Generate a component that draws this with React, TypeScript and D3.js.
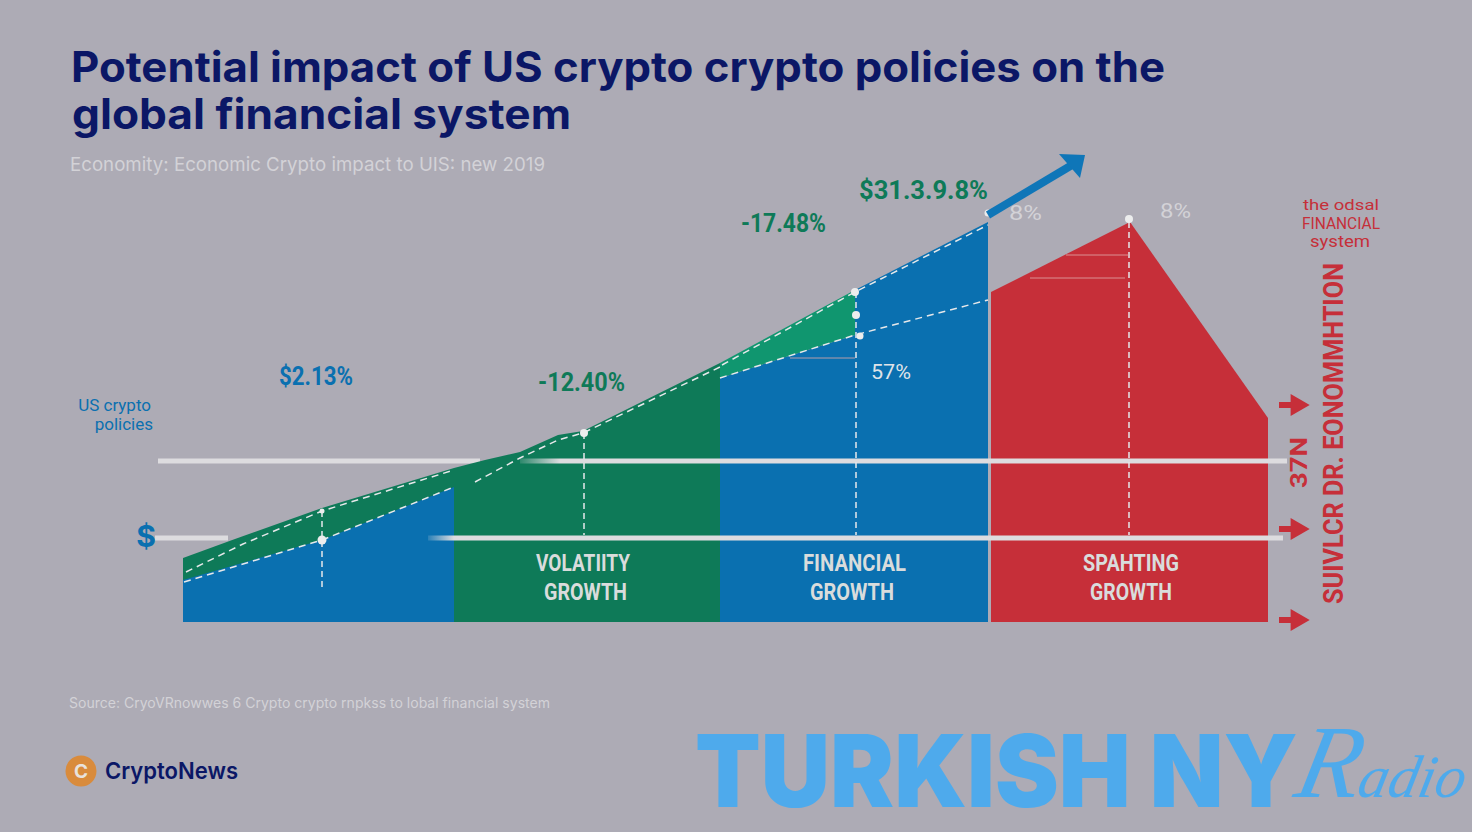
import React from 'react';
import * as d3 from 'd3';

type Pt = [number, number];

const blueOneTop: Pt[] = [[0, 42], [139, 82], [271, 135]];
const greenOneTop: Pt[] = [[0, 64], [52, 83], [139, 114], [271, 154]];
const greenTwoTop: Pt[] = [[271, 154], [302, 162], [337, 170], [375, 187], [400, 191], [537, 259]];
const tealTop: Pt[] = [[537, 259], [672, 332]];
const tealBottom: Pt[] = [[537, 244], [672, 287]];
const blueTwoTop: Pt[] = [[537, 244], [672, 287], [672, 332], [805, 400]];
const redTop: Pt[] = [[808, 330], [947, 400], [1085, 204]];

const dashedPaths: Pt[][] = [
  [[3, 50], [60, 78], [139, 111], [271, 152]],
  [[1, 40], [139, 82], [271, 135]],
  [[292, 140], [337, 164], [375, 182], [400, 189], [537, 255]],
  [[537, 244], [672, 287], [805, 322]],
  [[539, 257], [672, 330], [805, 397]],
];
const dropLines: Pt[][] = [
  [[139, 111], [139, 32]],
  [[401, 189], [401, 87]],
  [[673, 330], [673, 87]],
  [[946, 400], [946, 87]],
];
const thinLines: Pt[][] = [
  [[607, 264], [672, 264]],
  [[883, 367], [946, 367]],
  [[847, 344], [942, 344]],
];
const dots: [number, number, number][] = [
  [139, 111, 2.5], [139, 82, 4.5], [401, 189, 4], [672, 330, 4],
  [673, 307, 4], [677, 286, 3.5], [805, 409, 3.5], [946, 403, 4],
];
const solidBars: Pt[][] = [
  [[-25, 161], [297, 161]],
  [[-28, 84], [45, 84]],
];
const fadedBars: { id: string; points: Pt[]; fade: number }[] = [
  { id: 'fadeUpper', points: [[337, 161], [1104, 161]], fade: 40 },
  { id: 'fadeLower', points: [[245, 84], [1100, 84]], fade: 26 },
];
const arrowShaft: Pt[] = [[805, 407], [889, 457]];
const arrowHead: Pt[] = [[902, 467], [876, 468], [897, 444]];
const sideArrows = [217, 93, 2];

const stageLabels = [
  { lines: ['VOLATIITY', 'GROWTH'], left: [536, 544], right: [630, 627] },
  { lines: ['FINANCIAL', 'GROWTH'], left: [803, 810], right: [906, 894] },
  { lines: ['SPAHTING', 'GROWTH'], left: [1083, 1090], right: [1179, 1172] },
];

const BG = '#adabb5';
const BLUE = '#0a70b0';
const GREEN = '#0e7a58';
const TEAL = '#10966f';
const RED = '#c62f39';
const NAVY = '#0b1766';
const PALE = '#d3d2d7';
const WHITE = '#dddcdf';
const SKY = '#4eaaec';

const x = d3.scaleLinear().domain([0, 1085]).range([183, 1268]);
const y = d3.scaleLinear().domain([0, 400]).range([622, 222]);

const line = d3.line<Pt>().x(d => x(d[0])).y(d => y(d[1]));
const area = d3.area<Pt>().x(d => x(d[0])).y0(y(0)).y1(d => y(d[1]));
const tri = d3.symbol(d3.symbolTriangle, 210)()!;

export default function App() {
  const sans = 'Inter, sans-serif';
  const narrow = 'Roboto, sans-serif';
  const wedge = d3.area<number>()
    .x((_, i) => x(tealTop[i][0]))
    .y0((_, i) => y(tealBottom[i][1]))
    .y1((_, i) => y(tealTop[i][1]));

  return (
    <svg width={1472} height={832} style={{ position: 'absolute', left: 0, top: 0 }}>
      <defs>
        {fadedBars.map(b => (
          <linearGradient key={b.id} id={b.id} gradientUnits="userSpaceOnUse"
            x1={x(b.points[0][0])} x2={x(b.points[0][0] + b.fade)} y1={0} y2={0}>
            <stop offset="0" stopColor={WHITE} stopOpacity={0.15} />
            <stop offset="1" stopColor={WHITE} />
          </linearGradient>
        ))}
      </defs>
      <rect width={1472} height={832} fill={BG} />

      <text x={71} y={82} fontFamily={sans} fontWeight={700} fontSize={42} fill={NAVY}
        textLength={1094} lengthAdjust="spacingAndGlyphs">Potential impact of US crypto crypto policies on the</text>
      <text x={72} y={129} fontFamily={sans} fontWeight={700} fontSize={42} fill={NAVY}
        textLength={499} lengthAdjust="spacingAndGlyphs">global financial system</text>
      <text x={70} y={171} fontFamily={sans} fontSize={19} fill={PALE}
        textLength={475} lengthAdjust="spacingAndGlyphs">Economity: Economic Crypto impact to UIS: new 2019</text>

      {solidBars.map((d, i) => <path key={i} d={line(d)!} stroke={WHITE} strokeWidth={5} fill="none" />)}

      <path d={area(greenOneTop)!} fill={GREEN} />
      <path d={area(blueOneTop)!} fill={BLUE} />
      <path d={area(greenTwoTop)!} fill={GREEN} />
      <path d={area(blueTwoTop)!} fill={BLUE} />
      <path d={wedge([0, 1])!} fill={TEAL} />
      <path d={area(redTop)!} fill={RED} />

      {fadedBars.map(b => (
        <rect key={b.id} x={x(b.points[0][0])} y={y(b.points[0][1]) - 2.5}
          width={x(b.points[1][0]) - x(b.points[0][0])} height={5} fill={`url(#${b.id})`} />
      ))}

      {dashedPaths.map((d, i) => (
        <path key={i} d={line(d)!} stroke="#e6e8ea" strokeWidth={1.5} strokeDasharray="7 5" fill="none" />
      ))}
      {dropLines.map((d, i) => (
        <path key={i} d={line(d)!} stroke="#e6e8ea" strokeWidth={1.5} strokeDasharray="6 4" fill="none" />
      ))}
      {thinLines.map((d, i) => (
        <path key={i} d={line(d)!} stroke="#e0a9a9" strokeWidth={1} fill="none" opacity={0.8} />
      ))}
      {dots.map((d, i) => <circle key={i} cx={x(d[0])} cy={y(d[1])} r={d[2]} fill="#eceded" />)}

      <path d={line(arrowShaft)!} stroke="#0f76b8" strokeWidth={8} fill="none" />
      <path d={line(arrowHead)! + 'Z'} fill="#0f76b8" />

      <text x={279} y={385} fontFamily={narrow} fontWeight={700} fontSize={26} fill={BLUE}
        textLength={74} lengthAdjust="spacingAndGlyphs">$2.13%</text>
      <text x={538} y={391} fontFamily={narrow} fontWeight={700} fontSize={25} fill={GREEN}
        textLength={87} lengthAdjust="spacingAndGlyphs">-12.40%</text>
      <text x={741} y={232} fontFamily={narrow} fontWeight={700} fontSize={25} fill={GREEN}
        textLength={85} lengthAdjust="spacingAndGlyphs">-17.48%</text>
      <text x={859} y={199} fontFamily={narrow} fontWeight={700} fontSize={26} fill={GREEN}
        textLength={129} lengthAdjust="spacingAndGlyphs">$31.3.9.8%</text>
      <text x={1009} y={220} fontFamily={narrow} fontSize={21} fill={PALE}
        textLength={33} lengthAdjust="spacingAndGlyphs">8%</text>
      <text x={1160} y={218} fontFamily={narrow} fontSize={21} fill={PALE}
        textLength={31} lengthAdjust="spacingAndGlyphs">8%</text>
      <text x={871} y={379} fontFamily={narrow} fontSize={21} fill="#dfe3e8"
        textLength={40} lengthAdjust="spacingAndGlyphs">57%</text>

      <text x={151} y={411} textAnchor="end" fontFamily={narrow} fontSize={17} fill={BLUE}>US crypto</text>
      <text x={153} y={430} textAnchor="end" fontFamily={narrow} fontSize={17} fill={BLUE}>policies</text>
      <text x={146} y={547} textAnchor="middle" fontFamily={sans} fontWeight={700} fontSize={30} fill={BLUE}>$</text>

      {stageLabels.map(s => s.lines.map((t, i) => (
        <text key={s.lines[0] + i} x={s.left[i]} y={571 + i * 29} fontFamily={narrow} fontWeight={700}
          fontSize={23} fill="#d9dcdc" textLength={s.right[i] - s.left[i]} lengthAdjust="spacingAndGlyphs">{t}</text>
      )))}

      <text x={1303} y={210} fontFamily={narrow} fontSize={15} fill={RED}
        textLength={76} lengthAdjust="spacingAndGlyphs">the odsal</text>
      <text x={1302} y={229} fontFamily={narrow} fontSize={17} fill={RED}
        textLength={78} lengthAdjust="spacingAndGlyphs">FINANCIAL</text>
      <text x={1310} y={247} fontFamily={narrow} fontSize={17} fill={RED}
        textLength={60} lengthAdjust="spacingAndGlyphs">system</text>

      <text transform="translate(1343,604) rotate(-90)" fontFamily={narrow} fontWeight={700} fontSize={27} fill={RED}
        textLength={341} lengthAdjust="spacingAndGlyphs">SUIVLCR DR. EONOMMHTION</text>
      <text transform="translate(1307,488) rotate(-90)" fontFamily={narrow} fontWeight={700} fontSize={24} fill={RED}
        textLength={51} lengthAdjust="spacingAndGlyphs">37N</text>

      {sideArrows.map(v => (
        <g key={v} transform={`translate(${x(1110)},${y(v)})`} fill={RED}>
          <rect x={-14} y={-3} width={16} height={6} />
          <path d={tri} transform="rotate(90) translate(0,-4)" />
        </g>
      ))}

      <text x={69} y={708} fontFamily={sans} fontSize={14} fill={PALE}
        textLength={481} lengthAdjust="spacingAndGlyphs">Source: CryoVRnowwes 6 Crypto crypto rnpkss to lobal financial system</text>

      <circle cx={81} cy={771} r={15.5} fill="#d98b3c" />
      <text x={81} y={778} textAnchor="middle" fontFamily={sans} fontWeight={700} fontSize={19} fill="#e8e2dc">C</text>
      <text x={105} y={779} fontFamily={sans} fontWeight={600} fontSize={23} fill={NAVY}
        textLength={133} lengthAdjust="spacingAndGlyphs">CryptoNews</text>

      <text x={695} y={807} fontFamily={sans} fontWeight={900} fontSize={100} fill={SKY}
        textLength={603} lengthAdjust="spacingAndGlyphs">TURKISH NY</text>
      <text transform="translate(1292,797) skewX(-12)" fontFamily={'"Liberation Serif", serif'} fontStyle="italic"
        fill={SKY}>
        <tspan fontSize={104}>R</tspan>
        <tspan fontSize={60}>adio</tspan>
      </text>
    </svg>
  );
}
